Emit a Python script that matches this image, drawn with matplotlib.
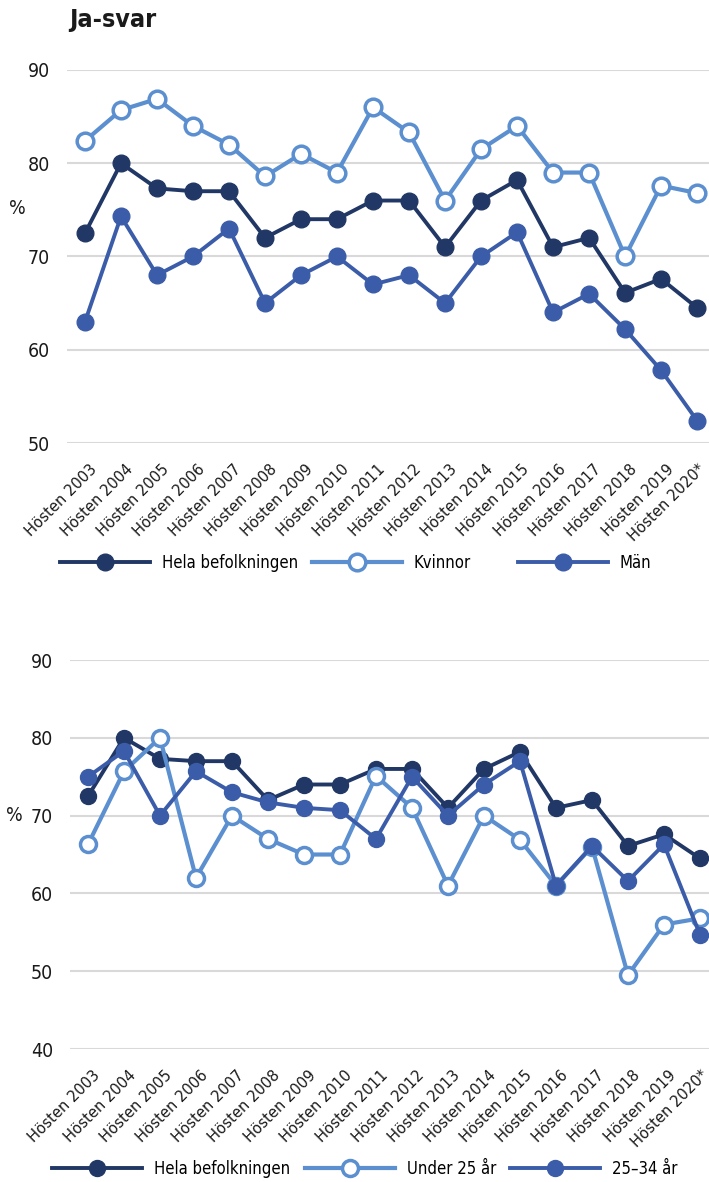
import matplotlib.pyplot as plt
from matplotlib.transforms import ScaledTranslation

plt.rcParams['font.family'] = ['DejaVu Sans']
plt.rcParams['font.stretch'] = 'condensed'

years = ["Hösten 2003", "Hösten 2004", "Hösten 2005", "Hösten 2006", "Hösten 2007",
         "Hösten 2008", "Hösten 2009", "Hösten 2010", "Hösten 2011", "Hösten 2012",
         "Hösten 2013", "Hösten 2014", "Hösten 2015", "Hösten 2016", "Hösten 2017",
         "Hösten 2018", "Hösten 2019", "Hösten 2020*"]

# Ja-svar i procent
hela = [72.5, 80, 77.3, 77, 77, 72, 74, 74, 76, 76, 71, 76, 78.2, 71, 72, 66.1, 67.6, 64.5]
kvinnor = [82.4, 85.7, 86.9, 84, 82, 78.6, 81, 79, 86, 83.3, 76, 81.5, 84, 79, 79, 70, 77.6, 76.8]
man = [63, 74.3, 68, 70, 73, 65, 68, 70, 67, 68, 65, 70, 72.6, 64, 66, 62.2, 57.8, 52.4]
under25 = [66.3, 75.7, 80, 62, 70, 67, 65, 65, 75.1, 71, 61, 70, 66.9, 61, 66, 49.5, 56, 56.8]
ar25_34 = [75, 78.3, 70, 75.7, 73, 71.7, 71, 70.7, 67, 75, 70, 74, 77, 61, 66.1, 61.6, 66.3, 54.7]

dark = "#213765"
light = "#5b8fcf"
mid = "#3b5ca8"
grid = "#d9d9d9"
txt = "#1a1a1a"

x = list(range(len(years)))
W, H = 709, 1182

fig = plt.figure(figsize=(7.09, 11.82), dpi=100)
shift = ScaledTranslation(0.10, -0.13, fig.dpi_scale_trans)
# last label sits a little further left so the asterisk stays inside the figure
shift_last = ScaledTranslation(0.055, -0.13, fig.dpi_scale_trans)


def style(ax, yticks):
    ax.set_yticks(yticks)
    ax.grid(axis="y", color=grid, linewidth=1.5)
    ax.set_axisbelow(True)
    for s in ax.spines.values():
        s.set_visible(False)
    ax.tick_params(length=0, colors=txt)
    ax.tick_params(axis="y", labelsize=14, pad=12)
    ax.tick_params(axis="x", pad=8)
    ax.set_xticks(x)
    ax.set_xticklabels(years, rotation=45, ha="right", va="center",
                       rotation_mode="anchor", fontsize=11.8)
    labels = ax.get_xticklabels()
    for lbl in labels[:-1]:
        lbl.set_transform(lbl.get_transform() + shift)
    labels[-1].set_transform(labels[-1].get_transform() + shift_last)


def one_legend(handle, label, px, py, size):
    # one legend per entry so each can sit where the reference has it
    fig.legend([handle], [label], loc="center left", bbox_to_anchor=(px / W, 1 - py / H),
               frameon=False, fontsize=size, borderpad=0, borderaxespad=0,
               handlelength=90 / (size * 100 / 72), handletextpad=0.7)


# Övre diagram: kön
ax1 = fig.add_axes([0.0945, 0.6252, 0.9055, 0.3156])
k, = ax1.plot(x, kvinnor, color=light, lw=3, marker="o", ms=12, mfc="white",
              mec=light, mew=2.5, clip_on=False, zorder=3)
hb, = ax1.plot(x, hela, color=dark, lw=2.8, marker="o", ms=12, mfc=dark, mec=dark,
               clip_on=False, zorder=4)
m, = ax1.plot(x, man, color=mid, lw=2.8, marker="o", ms=12, mfc=mid, mec=mid,
              clip_on=False, zorder=5)
ax1.set_xlim(-0.5, 17.33)
ax1.set_ylim(50, 90)
style(ax1, [50, 60, 70, 80, 90])
fig.text(0.012, 0.824, "%", fontsize=14, color=txt, va="center")
fig.text(0.098, 0.983, "Ja-svar", fontsize=18, fontweight="bold", color=txt, va="center")

one_legend(hb, "Hela befolkningen", 60, 563, 12)
one_legend(k, "Kvinnor", 312, 563, 12)
one_legend(m, "Män", 518, 563, 12)

# Nedre diagram: ålder
ax2 = fig.add_axes([0.0987, 0.1125, 0.9013, 0.3291])
hb2, = ax2.plot(x, hela, color=dark, lw=2.8, marker="o", ms=11.5, mfc=dark, mec=dark,
                clip_on=False, zorder=3)
u, = ax2.plot(x, under25, color=light, lw=3, marker="o", ms=11.5, mfc="white",
              mec=light, mew=2.5, clip_on=False, zorder=4)
a, = ax2.plot(x, ar25_34, color=mid, lw=2.8, marker="o", ms=11.5, mfc=mid, mec=mid,
              clip_on=False, zorder=5)
ax2.set_xlim(-0.5, 17.25)
ax2.set_ylim(40, 90)
style(ax2, [40, 50, 60, 70, 80, 90])
fig.text(0.008, 0.31, "%", fontsize=14, color=txt, va="center")

one_legend(hb2, "Hela befolkningen", 52, 1169, 12)
one_legend(u, "Under 25 år", 305, 1169, 12)
one_legend(a, "25–34 år", 510, 1169, 12)

fig.savefig("out.png", dpi=100)
